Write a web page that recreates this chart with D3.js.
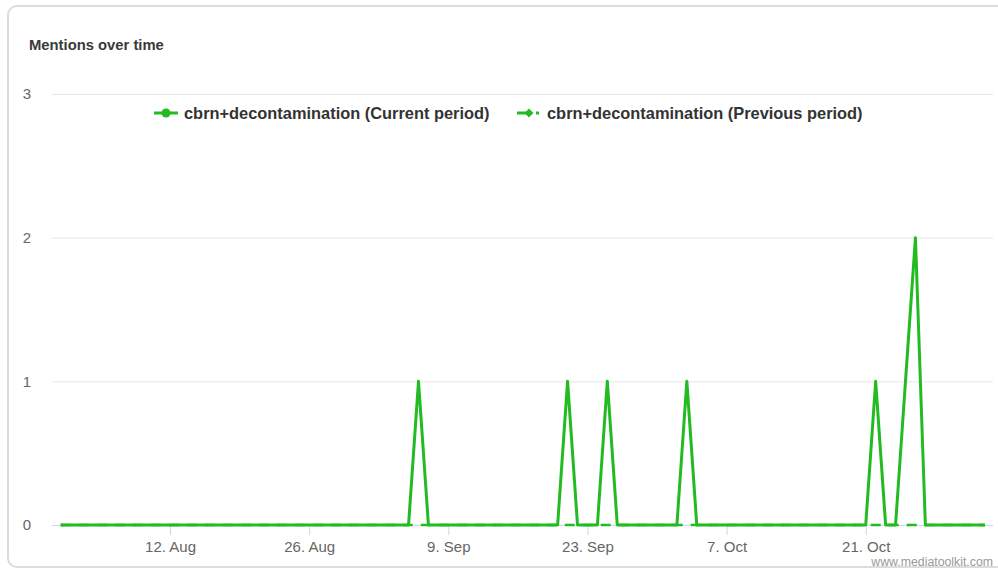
<!DOCTYPE html>
<html>
<head>
<meta charset="utf-8">
<script src="https://cdn.jsdelivr.net/npm/d3@7"></script>
<style>
  html, body { margin: 0; padding: 0; background: #fff; }
  svg { display: block; font-family: "Liberation Sans", Arial, Helvetica, sans-serif; }
</style>
</head>
<body>
<svg id="chart" width="998" height="569"></svg>
<script>
// ---- data ----
const startDate = "2019-08-01";
const endDate = "2019-11-02";
const spikeDates = ["2019-09-06", "2019-09-21", "2019-09-25", "2019-10-03", "2019-10-22", "2019-10-25", "2019-10-26"];
const spikeValues = [1, 1, 1, 1, 1, 1, 2];
const yTicks = [0, 1, 2, 3];
const xTickDates = ["2019-08-12", "2019-08-26", "2019-09-09", "2019-09-23", "2019-10-07", "2019-10-21"];
const seriesNames = ["cbrn+decontamination (Current period)", "cbrn+decontamination (Previous period)"];

const parse = d3.utcParse("%Y-%m-%d");
const days = d3.utcDay.range(parse(startDate), d3.utcDay.offset(parse(endDate), 1));
const spikeMap = new Map(spikeDates.map((d, i) => [d, spikeValues[i]]));
const fmtKey = d3.utcFormat("%Y-%m-%d");
const current = days.map(d => ({ date: d, value: spikeMap.get(fmtKey(d)) || 0 }));
const previous = days.map(d => ({ date: d, value: 0 }));

// ---- layout ----
const svg = d3.select("#chart");
const color = "#22bb22";
const plotLeft = 52, plotRight = 993;

svg.append("rect")
  .attr("x", 8).attr("y", 6).attr("width", 1010).attr("height", 561)
  .attr("rx", 9).attr("fill", "#fff").attr("stroke", "#dcdcdc").attr("stroke-width", 2);

svg.append("text").attr("x", 29).attr("y", 50)
  .attr("font-size", 14.8).attr("font-weight", "bold").attr("fill", "#3a3a3a")
  .text("Mentions over time");

const x = d3.scaleUtc().domain([parse(startDate), parse(endDate)]).range([60.7, 985]);
const y = d3.scaleLinear().domain([0, 3]).range([525, 94]);

// gridlines
const yAxis = d3.axisLeft(y).tickValues(yTicks).tickSize(-(plotRight - plotLeft)).tickPadding(21).tickFormat(d3.format("d"));
const gy = svg.append("g").attr("transform", `translate(${plotLeft},0)`).call(yAxis);
gy.select(".domain").remove();
gy.selectAll(".tick line").attr("stroke", "#e6e6e6");
gy.selectAll(".tick text").attr("font-size", 15).attr("fill", "#666")
  .attr("font-family", "Liberation Sans, Arial, sans-serif");

// x axis
const xAxis = d3.axisBottom(x).tickValues(xTickDates.map(parse)).tickSize(10).tickPadding(6)
  .tickFormat(d => d3.utcFormat("%-d. %b")(d));
const gx = svg.append("g").attr("transform", `translate(0,525)`).call(xAxis);
gx.select(".domain").attr("d", `M${plotLeft},0.5H${plotRight}`).attr("stroke", "#ccd6eb");
gx.selectAll(".tick line").attr("stroke", "#ccd6eb");
gx.selectAll(".tick text").attr("font-size", 15).attr("fill", "#666")
  .attr("font-family", "Liberation Sans, Arial, sans-serif");

// lines
const line = d3.line().x(d => x(d.date)).y(d => y(d.value));
svg.append("path").datum(previous).attr("d", line)
  .attr("fill", "none").attr("stroke", color).attr("stroke-width", 2.5)
  .attr("stroke-dasharray", "10,8");
svg.append("path").datum(current).attr("d", line)
  .attr("fill", "none").attr("stroke", color).attr("stroke-width", 3)
  .attr("stroke-linejoin", "round");

// legend
const lg = svg.append("g");
lg.append("line").attr("x1", 154).attr("x2", 178).attr("y1", 113).attr("y2", 113)
  .attr("stroke", color).attr("stroke-width", 3);
lg.append("circle").attr("cx", 166).attr("cy", 113).attr("r", 4.5).attr("fill", color);
lg.append("text").attr("x", 184).attr("y", 119).attr("font-size", 16.4).attr("font-weight", "bold")
  .attr("fill", "#333").text(seriesNames[0]);

lg.append("line").attr("x1", 517).attr("x2", 539).attr("y1", 113).attr("y2", 113)
  .attr("stroke", color).attr("stroke-width", 3).attr("stroke-dasharray", "13,6");
lg.append("path").attr("d", d3.symbol(d3.symbolDiamond2, 50)())
  .attr("transform", "translate(529,113)").attr("fill", color);
lg.append("text").attr("x", 547).attr("y", 119).attr("font-size", 16.4).attr("font-weight", "bold")
  .attr("fill", "#333").text(seriesNames[1]);

// credits
svg.append("text").attr("x", 993).attr("y", 566).attr("text-anchor", "end")
  .attr("font-size", 12.3).attr("fill", "#999").text("www.mediatoolkit.com");
</script>
</body>
</html>
